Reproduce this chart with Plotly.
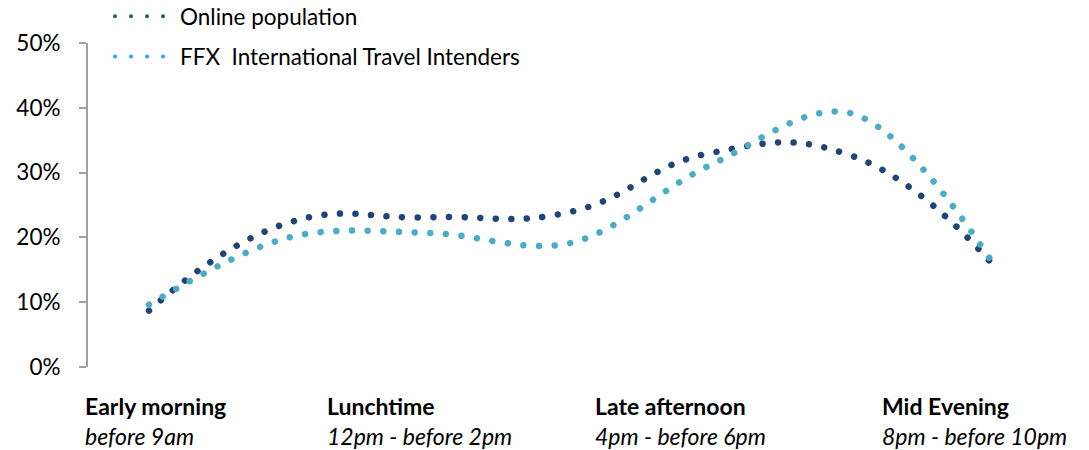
import plotly.graph_objects as go

# ---- data ----
time_slots = ["before 9am", "9am - before 12pm", "12pm - before 2pm", "2pm - before 4pm",
              "4pm - before 6pm", "6pm - before 8pm", "8pm - before 10pm"]
online_population = [0.087, 0.223, 0.231, 0.239, 0.330, 0.327, 0.163]
ffx_travel_intenders = [0.096, 0.200, 0.207, 0.191, 0.311, 0.392, 0.167]
series_names = ["Online population", "FFX\u00a0 International Travel Intenders"]

label_slots = ["before 9am", "12pm - before 2pm", "4pm - before 6pm", "8pm - before 10pm"]
label_titles = ["Early morning", "Lunchtime", "Late afternoon", "Mid Evening"]
label_shift = [-66, -104, -117, -110]

y_ticks = [0, 0.1, 0.2, 0.3, 0.4, 0.5]

# ---- style ----
FONT = "Lato"
line_colors = ["#1F4477", "#4BACC6"]
line_smoothing = [1.3, 1.0]
legend_colors = ["#1B5C74", "#1CB3D7"]

fig = go.Figure()
for vals, col, sm in zip([online_population, ffx_travel_intenders], line_colors, line_smoothing):
    fig.add_trace(go.Scatter(
        x=time_slots, y=vals, mode="lines", showlegend=False, hoverinfo="skip",
        line=dict(color=col, width=6.5, shape="spline", smoothing=sm, dash="6px,9.6px"),
    ))
for i, (name, col) in enumerate(zip(series_names, legend_colors)):
    fig.add_trace(go.Scatter(
        x=[None], y=[None], mode="lines", name=name, legendgroup=f"g{i}",
        line=dict(color=col, width=4, dash="4px,12px"),
    ))

for slot, title, sh in zip(label_slots, label_titles, label_shift):
    fig.add_annotation(
        x=slot, y=0, xref="x", yref="paper", xanchor="left", yanchor="top",
        xshift=sh, yshift=-23, showarrow=False, align="left",
        text=f"<b>{title}</b><br><i>{slot}</i>",
        font=dict(family=FONT, size=23, color="#000000"),
    )

fig.update_layout(
    width=1089, height=450,
    margin=dict(l=88, r=19, t=43, b=83, autoexpand=False),
    paper_bgcolor="white", plot_bgcolor="white",
    font=dict(family=FONT, size=22, color="#000000"),
    showlegend=True,
    legend=dict(
        x=110 / 1089, xref="container", xanchor="left",
        y=1 + 48 / 324, yref="paper", yanchor="top",
        traceorder="grouped", tracegroupgap=8, itemwidth=60,
        bgcolor="rgba(0,0,0,0)", borderwidth=0,
        font=dict(family=FONT, size=22.5, color="#000000"),
    ),
    xaxis=dict(
        type="category", range=[-0.435, 6.571], showticklabels=False,
        showgrid=False, zeroline=False, showline=False, ticks="",
    ),
    yaxis=dict(
        range=[0, 0.5], tickvals=y_ticks, tickformat=".0%",
        showgrid=False, zeroline=False, showline=True, linecolor="#A0A0A0", linewidth=2,
        ticks="outside", ticklen=7, tickcolor="#A0A0A0", tickwidth=2,
        ticklabelstandoff=14,
        tickfont=dict(family=FONT, size=22.5, color="#000000"),
    ),
)

post = """
var gd = document.getElementById('{plot_id}');
gd.querySelectorAll('.scatterlayer path.js-line').forEach(function(p){
  var step = 15.6, s = step;
  var L = p.getTotalLength ? p.getTotalLength() : 0;
  if (L > 0) { var n = Math.max(1, Math.round(L / step)); s = (L - 1.5) / n; }
  p.style.strokeLinecap = 'round';
  p.style.strokeDasharray = '0.01px,' + (s - 0.01) + 'px';
});
gd.querySelectorAll('.legend .legendlines path').forEach(function(p){
  p.style.strokeLinecap = 'round';
  p.style.strokeDasharray = '0.01px,16px';
});
"""
fig.write_html("out.html", post_script=post)
